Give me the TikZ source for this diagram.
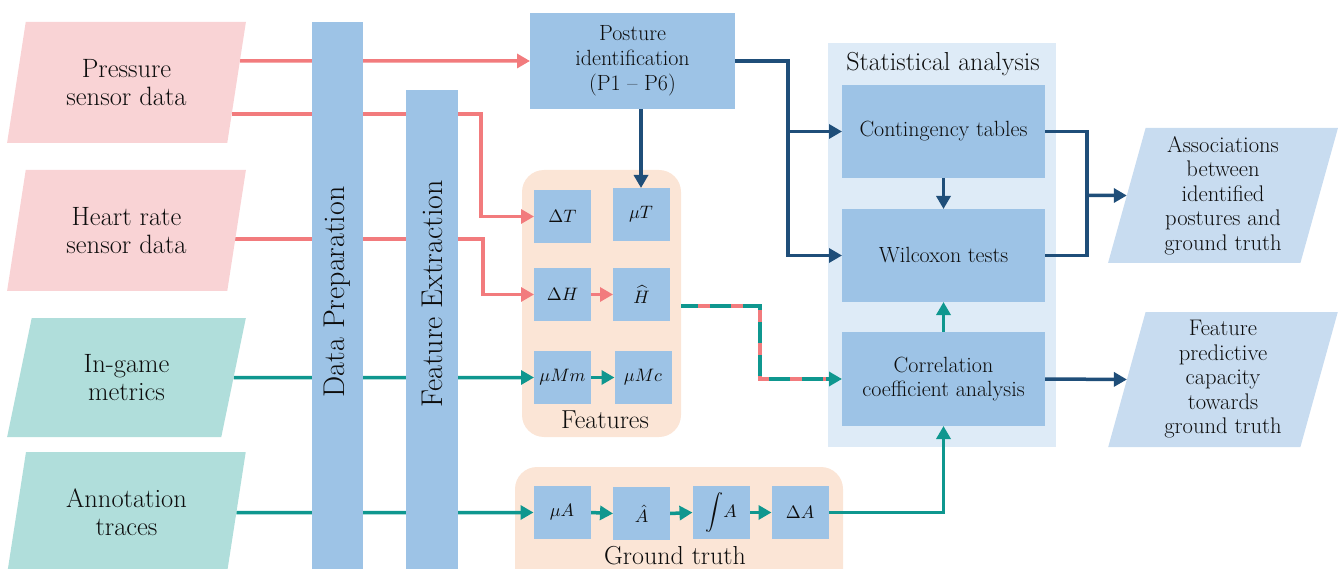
\documentclass[tikz,border=0pt]{standalone}
\usetikzlibrary{arrows.meta,shapes.geometric,calc}
\pgfdeclarelayer{bg}\pgfdeclarelayer{mid}\pgfsetlayers{bg,mid,main}
\definecolor{pinkfill}{HTML}{F9D3D5}
\definecolor{pinkline}{HTML}{F27B7D}
\definecolor{tealfill}{HTML}{B0DEDB}
\definecolor{tealline}{HTML}{0F978F}
\definecolor{barblue}{HTML}{9DC3E6}
\definecolor{darkblue}{HTML}{1F4E79}
\definecolor{statbg}{HTML}{DEEBF7}
\definecolor{outfill}{HTML}{C8DCF0}
\definecolor{peach}{HTML}{FBE5D6}
\definecolor{txt}{HTML}{0D0D0D}
\newcommand\ftSrc{\fontsize{26.5}{28}\selectfont}
\newcommand\ftPost{\fontsize{22}{25}\selectfont}
\newcommand\ftStat{\fontsize{22}{24}\selectfont}
\newcommand\ftLab{\fontsize{26}{28}\selectfont}
\newcommand\ftOut{\fontsize{22.6}{24.5}\selectfont}
\newcommand\ftBar{\fontsize{30}{32}\selectfont}
\newcommand\mth[1]{\scalebox{1.8}{$#1$}}
\begin{document}
\begin{tikzpicture}[x=1pt,y=-1pt,
  every node/.style={text=txt, inner sep=0pt, outer sep=0pt},
  para/.style={trapezium, trapezium left angle=76.5, trapezium right angle=103.5,
    trapezium stretches=true, align=center},
  src/.style={para, minimum width=239pt, minimum height=121pt, font=\ftSrc},
  pinksrc/.style={src, fill=pinkfill},
  tealsrc/.style={src, fill=tealfill},
  outp/.style={para, fill=outfill, minimum width=230pt, minimum height=135pt, font=\ftOut},
  box/.style={fill=barblue, align=center},
  fbox/.style={box, minimum width=57pt, minimum height=53pt},
  sbox/.style={box, minimum width=203pt, minimum height=93pt, font=\ftStat},
  conn/.style={line width=3.5pt, -{Triangle[length=13pt,width=14pt]}},
  pk/.style={conn, draw=pinkline},
  tl/.style={conn, draw=tealline},
  db/.style={conn, draw=darkblue},
  dbline/.style={line width=3.5pt, draw=darkblue},
  contbox/.style={fill=peach, rounded corners=22pt}
]
\useasboundingbox (0,0) rectangle (1341,569);

% containers
\begin{pgfonlayer}{bg}
  \fill[statbg] (828,43) rectangle (1056,447);
  \fill[contbox] (522,170) rectangle (681,437);
  \fill[contbox] (515,467) rectangle (843,620);
\end{pgfonlayer}
\node[font=\ftLab] (statlab) at (943,64) {Statistical analysis};
\node[font=\ftLab] (featlab) at (605,420) {Features};
\node[font=\ftLab] (gtlab) at (675,556) {Ground truth};

% sources
\node[pinksrc] (press) at (126.5,82.5) {Pressure\\sensor data};
\node[pinksrc] (heart) at (126.5,230.5) {Heart rate\\sensor data};
\node[tealsrc, minimum height=119pt] (game) at (126.5,377.5) {In-game\\metrics};
\node[tealsrc] (annot) at (126.5,512.5) {Annotation\\traces};

% bars
\fill[barblue] (312,22) rectangle (363,620);
\fill[barblue] (406,90) rectangle (458,620);
\node[font=\ftBar, rotate=90] (dprep) at (337.5,292) {Data Preparation};
\node[font=\ftBar, rotate=90] (fext) at (432,294) {Feature Extraction};

% boxes
\node[box, minimum width=205pt, minimum height=96pt, font=\ftPost] (post) at (632.5,61)
  {Posture\\identification\\(P1 -- P6)};
\node[fbox] (dT) at (562.5,216.5) {\mth{\Delta T}};
\node[fbox] (muT) at (641,214.5) {\mth{\mu T}};
\node[fbox] (dH) at (562.5,294.5) {\mth{\Delta H}};
\node[fbox] (Hh) at (641.5,294.5) {\mth{\widehat{H}}};
\node[fbox] (muMm) at (562.5,377.5) {\mth{\mu Mm}};
\node[fbox] (muMc) at (643,377.5) {\mth{\mu Mc}};
\node[fbox] (muA) at (562,512.5) {\mth{\mu A}};
\node[fbox] (Ah) at (641.5,513.5) {\mth{\hat{A}}};
\node[fbox] (intA) at (721,512.5) {\mth{\displaystyle\int\! A}};
\node[fbox] (dA) at (800,512.5) {\mth{\Delta A}};

\node[sbox] (cont) at (943.5,131.5) {Contingency tables};
\node[sbox] (wil) at (943.5,255.5) {Wilcoxon tests};
\node[sbox, minimum height=94pt] (corr) at (943.5,379) {Correlation\\coefficient analysis};

\node[outp] (assoc) at (1223,195.5) {Associations\\between\\identified\\postures and\\ground truth};
\node[outp] (fpred) at (1223,379.5) {Feature\\predictive\\capacity\\towards\\ground truth};

\coordinate (j) at (788,61);
\coordinate (k) at (1087,195.5);
\coordinate (d0) at (681,306);

\begin{pgfonlayer}{mid}
  % pink
  \draw[pk] ($(press.top right corner)!0.322!(press.bottom right corner)$) -- (post.west);
  \draw[pk] ($(press.top right corner)!0.76!(press.bottom right corner)$)
     -| ($(dT.west)+(-53,0)$) -- (dT.west);
  \draw[pk] ($(heart.top right corner)!0.57!(heart.bottom right corner)$)
     -| ($(dH.west)+(-51,0)$) -- (dH.west);
  \draw[pk] (dH.east) -- (Hh.west);
  % teal
  \draw[tl] (game.east) -- (muMm.west);
  \draw[tl] (muMm.east) -- (muMc.west);
  \draw[tl] (annot.east) -- (muA.west);
  \draw[tl] (muA.east) -- (Ah.west);
  \draw[tl] (Ah.east) -- (intA.west);
  \draw[tl] (intA.east) -- (dA.west);
  \draw[tl] (dA.east) -| (corr.south);
  \draw[tl] (corr.north) -- (wil.south);
  % dashed teal/pink
  \draw[tl] (d0) -| ($(corr.west)+(-82,0)$) -- (corr.west);
  \draw[line width=3.5pt, draw=pinkline, dash pattern=on 12pt off 21pt, dash phase=16pt]
     (d0) -| ($(corr.west)+(-82,0)$) -- ($(corr.west)+(-16,0)$);
  % dark blue
  \draw[db] (post.south -| muT.north) -- (muT.north);
  \draw[db] (post.east) -| (j |- wil.west) -- (wil.west);
  \draw[db] (j |- cont.west) -- (cont.west);
  \draw[db] (cont.south) -- (wil.north);
  \draw[dbline] (cont.east) -| (k |- wil.east) -- (wil.east);
  \draw[db] (k) -- (assoc.west);
  \draw[db] (corr.east) -- (fpred.west);
\end{pgfonlayer}
\end{tikzpicture}
\end{document}
